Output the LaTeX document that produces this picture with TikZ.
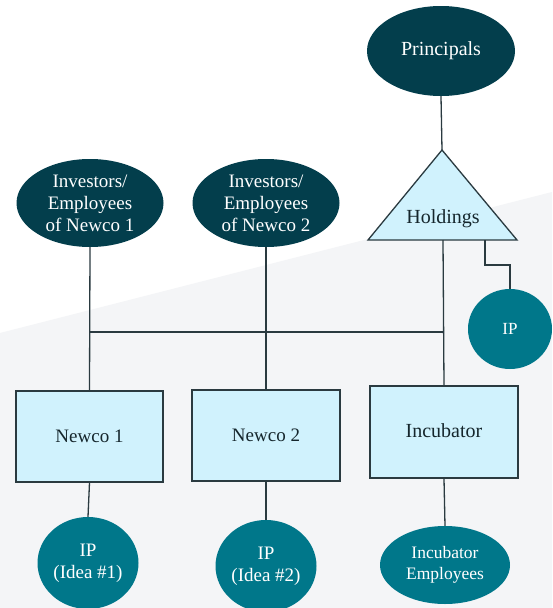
\documentclass[tikz,border=0pt]{standalone}
\usepackage{fontspec}
\setmainfont{Liberation Serif}
\usetikzlibrary{shapes.geometric}
\definecolor{darkteal}{HTML}{033E4C}
\definecolor{midteal}{HTML}{00778A}
\definecolor{paleblue}{HTML}{D0F2FD}
\definecolor{linegray}{HTML}{2A3A40}
\definecolor{textdark}{HTML}{15262C}
\definecolor{bggray}{HTML}{F4F5F7}
\tikzset{
  owner/.style={ellipse,fill=darkteal,text=white,align=center,inner sep=0pt,minimum width=147pt,minimum height=88pt,font=\fontsize{19}{22}\selectfont},
  ipnode/.style={ellipse,fill=midteal,text=white,align=center,inner sep=0pt,font=\fontsize{19}{22}\selectfont},
  entity/.style={draw=linegray,line width=1.3pt,fill=paleblue,text=textdark,minimum width=147pt,minimum height=91pt,inner sep=0pt,font=\fontsize{19}{22}\selectfont},
  link/.style={draw=linegray,line width=1.3pt}
}
\begin{document}
\begin{tikzpicture}[x=1pt,y=-1pt]
\useasboundingbox (0,0) rectangle (552,608);
   %background:
\fill[white] (0,0) rectangle (552,608);
\fill[bggray] (0,333) -- (552,192) -- (552,608) -- (0,608) -- cycle;

   %top owners:
\node (principals) at (441,51) [owner,minimum width=148pt,minimum height=90pt,font=\fontsize{20}{24}\selectfont] {Principals};
\node (inv1) at (90,203) [owner] {Investors/\\Employees\\of Newco 1};
\node (inv2) at (266,203) [owner] {Investors/\\Employees\\of Newco 2};

   %holdings:
\coordinate (apex) at (442,150);
\coordinate (baseL) at (368,240);
\coordinate (baseR) at (517,240);
\coordinate (hbase) at (443,240);
\coordinate (hip) at (485,240);
\coordinate (bus) at (0,332);
\draw[link,fill=paleblue] (apex) -- (baseR) -- (baseL) -- cycle;
\node (holdings) at (443,219) [text=textdark,font=\fontsize{20}{24}\selectfont] {Holdings};
\node (iph) at (510,329) [ipnode,minimum width=84pt,minimum height=80pt,font=\fontsize{17}{20}\selectfont] {IP};

   %companies:
\node (newco1) at (89.5,436.5) [entity] {Newco 1};
\node (newco2) at (266,435.5) [entity,minimum width=148pt] {Newco 2};
\node (incubator) at (444,432) [entity,minimum width=148pt,minimum height=92pt,font=\fontsize{20}{24}\selectfont] {\raisebox{3pt}{Incubator}};

   %bottom:
\node (ip1) at (88,563) [ipnode,minimum width=101pt,minimum height=92pt] {IP\\(Idea \#1)};
\node (ip2) at (266,566) [ipnode,minimum width=101pt,minimum height=92pt] {IP\\(Idea \#2)};
\node (incemp) at (445,565) [ipnode,minimum width=130pt,minimum height=78pt,font=\fontsize{17.5}{21}\selectfont] {Incubator\\Employees};

   %links:
\draw[link] (principals.south) -- (apex);
\draw[link] (inv1.south) -- (newco1.north);
\draw[link] (inv2.south) -- (newco2.north);
\draw[link] (hbase) -- (incubator.north);
\draw[link] (newco1.north |- bus) -- (hbase |- bus);
\draw[link] (hip) -- ++(0,25) -| (iph.north);
\draw[link] (newco1.south) -- (ip1.north);
\draw[link] (newco2.south) -- (ip2.north);
\draw[link] (incubator.south) -- (incemp.north);
\end{tikzpicture}
\end{document}
